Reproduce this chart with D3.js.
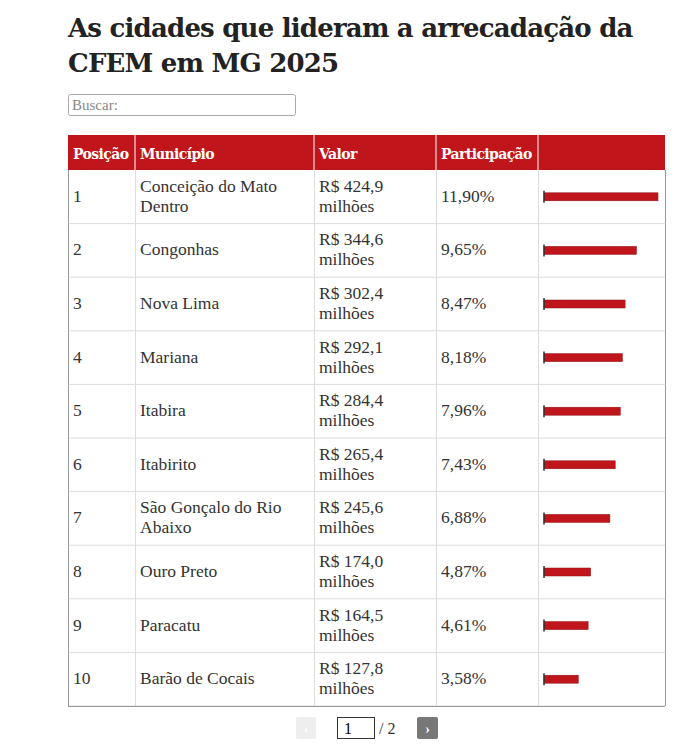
<!DOCTYPE html>
<html><head><meta charset="utf-8">
<script src="https://cdn.jsdelivr.net/npm/d3@7"></script>
<style>body{margin:0;background:#fff}</style>
</head><body>
<svg id="chart" width="700" height="744"></svg>
<script>
var posicoes = [1,2,3,4,5,6,7,8,9,10];
var municipios = [["Conceição do Mato","Dentro"],["Congonhas"],["Nova Lima"],["Mariana"],["Itabira"],["Itabirito"],["São Gonçalo do Rio","Abaixo"],["Ouro Preto"],["Paracatu"],["Barão de Cocais"]];
var valores = [424.9,344.6,302.4,292.1,284.4,265.4,245.6,174.0,164.5,127.8];
var participacao = ["11,90%","9,65%","8,47%","8,18%","7,96%","7,43%","6,88%","4,87%","4,61%","3,58%"];
var cabecalhos = ["Posição","Município","Valor","Participação",""];

var svg = d3.select("#chart");
var serif = "'Liberation Serif', serif";
var red = "#c0161b";

svg.append("text").attr("x",68).attr("y",37).attr("font-family","'DejaVu Serif', serif")
  .attr("font-weight","bold").attr("font-size",26).attr("letter-spacing",-0.8).attr("fill","#222")
  .text("As cidades que lideram a arrecadação da");
svg.append("text").attr("x",68).attr("y",72).attr("font-family","'DejaVu Serif', serif")
  .attr("font-weight","bold").attr("font-size",26).attr("letter-spacing",-0.8).attr("fill","#222")
  .text("CFEM em MG 2025");

svg.append("rect").attr("x",68.5).attr("y",94.5).attr("width",227).attr("height",21).attr("rx",2)
  .attr("fill","#fff").attr("stroke","#aaa");
svg.append("text").attr("x",72).attr("y",110).attr("font-family",serif).attr("font-size",15)
  .attr("fill","#888").text("Buscar:");

var colX = [68,135,314,436,538,665];
var top0 = 135, headH = 35;
var y = d3.scaleBand().domain(posicoes).range([170,706]);
var x = d3.scaleLinear().domain([0,424.9]).range([544,658]);

svg.append("rect").attr("x",68).attr("y",top0).attr("width",597).attr("height",headH).attr("fill",red);
cabecalhos.forEach(function(h,i){
  svg.append("text").attr("x",colX[i]+5).attr("y",top0+24).attr("font-family","'DejaVu Serif', serif")
    .attr("font-weight","bold").attr("font-size",14).attr("letter-spacing",-0.6).attr("fill","#fff").text(h);
});
for(var i=1;i<5;i++){
  svg.append("line").attr("x1",colX[i]).attr("x2",colX[i]).attr("y1",top0).attr("y2",top0+headH)
    .attr("stroke","#fff").attr("stroke-width",1);
}

var rows = svg.selectAll("g.row").data(posicoes).enter().append("g").attr("class","row")
  .attr("transform",function(d){return "translate(0,"+y(d)+")";});
var bh = y.bandwidth();
rows.append("line").attr("x1",68).attr("x2",665).attr("y1",bh).attr("y2",bh).attr("stroke","#ddd");
colX.forEach(function(cx,i){
  rows.append("line").attr("x1",cx+0.5).attr("x2",cx+0.5).attr("y1",0).attr("y2",bh)
    .attr("stroke",(i==0||i==5)?"#999":"#ddd");
});
function txt(g,xp,lines){
  var t = g.append("text").attr("font-family",serif).attr("font-size",17.5).attr("fill","#333");
  var start = bh/2 + 5 - (lines.length-1)*10;
  lines.forEach(function(l,k){ t.append("tspan").attr("x",xp).attr("y",start+k*20).text(l); });
}
rows.each(function(d,i){
  var g = d3.select(this);
  txt(g,73,[String(d)]);
  txt(g,140,municipios[i]);
  txt(g,319,["R$ "+valores[i].toFixed(1).replace(".",","),"milhões"]);
  txt(g,441,[participacao[i]]);
  g.append("rect").attr("x",x(0)).attr("y",bh/2-4).attr("width",x(valores[i])-x(0)).attr("height",8)
    .attr("fill",red).attr("stroke","#8a1014").attr("stroke-width",0.5);
  g.append("line").attr("x1",x(0)).attr("x2",x(0)).attr("y1",bh/2-6).attr("y2",bh/2+6)
    .attr("stroke","#333").attr("stroke-width",1.5);
});
svg.append("line").attr("x1",68).attr("x2",665).attr("y1",706.5).attr("y2",706.5).attr("stroke","#999");

// pagination
svg.append("rect").attr("x",296).attr("y",717).attr("width",20).attr("height",22).attr("rx",2).attr("fill","#eee");
svg.append("text").attr("x",306).attr("y",734).attr("text-anchor","middle").attr("fill","#fff").attr("font-size",14).attr("font-weight","bold").text("‹");
svg.append("rect").attr("x",337.5).attr("y",717.5).attr("width",37).attr("height",21).attr("fill","#fff").attr("stroke","#333");
svg.append("text").attr("x",344).attr("y",734).attr("font-family",serif).attr("font-size",16).text("1");
svg.append("text").attr("x",379).attr("y",734).attr("font-family",serif).attr("font-size",16).attr("fill","#333").text("/ 2");
svg.append("rect").attr("x",417).attr("y",717).attr("width",21).attr("height",22).attr("rx",2).attr("fill","#777");
svg.append("text").attr("x",427.5).attr("y",734).attr("text-anchor","middle").attr("fill","#fff").attr("font-size",14).attr("font-weight","bold").text("›");
</script>
</body></html>
